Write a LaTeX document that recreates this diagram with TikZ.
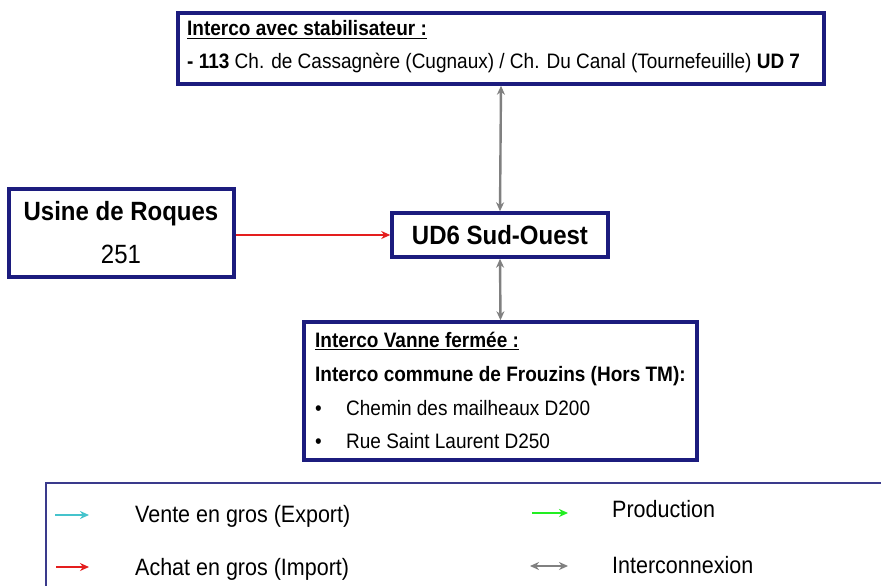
\documentclass[tikz,border=0pt]{standalone}
\usepackage{fontspec}
\setmainfont{Liberation Sans}
\usetikzlibrary{arrows.meta}
\definecolor{navy}{HTML}{1C1C7E}
\definecolor{legnavy}{HTML}{3A3A8C}
\definecolor{cyanarr}{HTML}{45C3CC}
\definecolor{greenarr}{HTML}{22EE22}
\definecolor{redarr}{HTML}{E41E1E}
\definecolor{grayarr}{HTML}{808080}
\newcommand{\fs}[1]{\fontsize{#1}{#1}\selectfont}
\newcommand{\vs}[1]{\scalebox{1}[1.1]{#1}}
\tikzset{
  box/.style={draw=navy, line width=3.5pt, fill=white, inner sep=0pt},
  txt/.style={anchor=base west, inner sep=0pt, text=black},
  ctxt/.style={anchor=base, inner sep=0pt, text=black},
  tipA/.style={-{Stealth[length=9pt,width=8pt]}, line width=2.4pt},
  tipB/.style={{Stealth[length=9pt,width=8pt]}-{Stealth[length=9pt,width=8pt]}, line width=2.4pt}
}
\begin{document}
\begin{tikzpicture}[x=1pt,y=-1pt]
\useasboundingbox[fill=white] (0,0) rectangle (881,586);
% boxes
\node[box, minimum width=646pt, minimum height=71pt] (top) at (501,48.5) {};
\node[box, minimum width=225pt, minimum height=88pt] (usine) at (121.5,233) {};
\node[box, minimum width=216pt, minimum height=44pt] (ud6) at (500,235) {};
\node[box, minimum width=393pt, minimum height=138pt] (bot) at (500.5,391) {};
% top box text
\node[txt] (t1) at (187,36) {\vs{\fs{19}\textbf{\underline{Interco avec stabilisateur :}}}};
\node[txt] (t2) at (187,69) {\vs{\fs{19}\textbf{- 113} Ch. de Cassagnère (Cugnaux) / Ch. Du Canal (Tournefeuille) \textbf{UD 7}}};
% usine text
\node[ctxt] (u1) at (121,220) {\vs{\fs{24}\textbf{Usine de Roques}}};
\node[ctxt] (u2) at (121,263) {\vs{\fs{24}251}};
% ud6 text
\node[ctxt] (d1) at (500,244) {\vs{\fs{24}\textbf{UD6 Sud-Ouest}}};
% bottom box text
\node[txt] (b1) at (315,347) {\vs{\fs{19}\textbf{\underline{Interco Vanne fermée :}}}};
\node[txt] (b2) at (315,381) {\vs{\fs{19}\textbf{Interco commune de Frouzins (Hors TM):}}};
\node[txt] (b3) at (315,415) {\vs{\fs{19}•}};
\node[txt] (b4) at (346,415) {\vs{\fs{19}Chemin des mailheaux D200}};
\node[txt] (b5) at (315,448) {\vs{\fs{19}•}};
\node[txt] (b6) at (346,448) {\vs{\fs{19}Rue Saint Laurent D250}};
% connectors
\draw[tipA, redarr] (usine.east |- ud6.west) -- (ud6.west);
\draw[tipB, grayarr] (top.south) -- (ud6.north);
\draw[tipB, grayarr] (ud6.south) -- (bot.north);
% legend
\draw[legnavy, line width=2.2pt] (900,483) -- (46,483) -- (46,600);
\coordinate (l1a) at (55,515); \coordinate (l1b) at (89,515);
\coordinate (l2a) at (56,567); \coordinate (l2b) at (89,567);
\coordinate (l3a) at (532,513); \coordinate (l3b) at (568,513);
\coordinate (l4a) at (530,566); \coordinate (l4b) at (568,566);
\draw[tipA, cyanarr] (l1a) -- (l1b);
\draw[tipA, redarr] (l2a) -- (l2b);
\draw[tipA, greenarr] (l3a) -- (l3b);
\draw[tipB, grayarr] (l4a) -- (l4b);
\node[txt] (e1) at (135,522) {\vs{\fs{21.5}Vente en gros (Export)}};
\node[txt] (e2) at (135,575) {\vs{\fs{21.5}Achat en gros (Import)}};
\node[txt] (e3) at (612,517) {\vs{\fs{21.5}Production}};
\node[txt] (e4) at (612,573) {\vs{\fs{21.5}Interconnexion}};
\end{tikzpicture}
\end{document}
